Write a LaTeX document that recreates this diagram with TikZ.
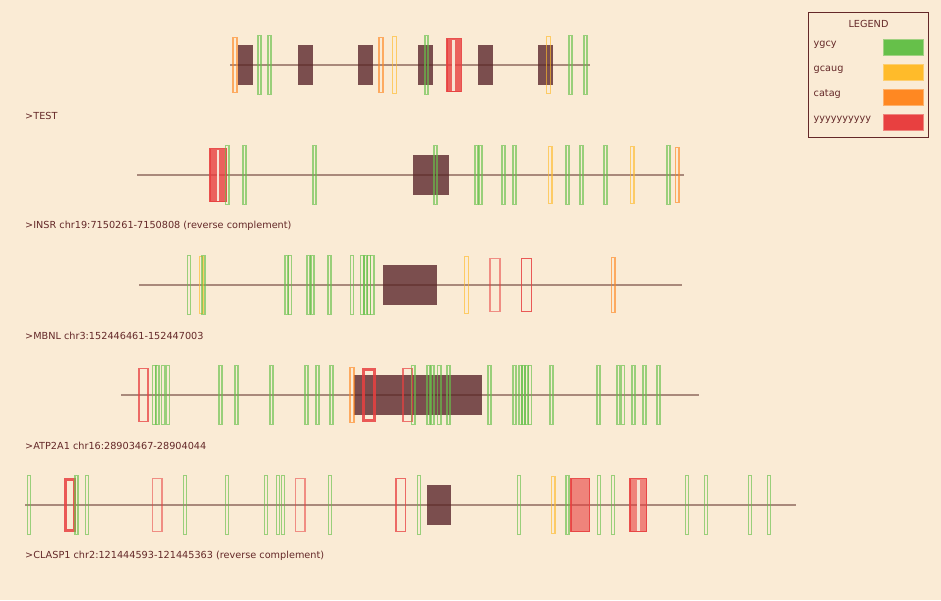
\documentclass[tikz,border=0pt]{standalone}
\usepackage{fontspec}
\setmainfont{DejaVu Sans}
\definecolor{bg}{RGB}{250,235,213}
\definecolor{lncol}{RGB}{90,40,35}
\definecolor{excol}{RGB}{123,78,78}
\definecolor{txt}{RGB}{100,40,40}
\definecolor{cG}{RGB}{102,192,74}
\definecolor{cY}{RGB}{255,187,42}
\definecolor{cO}{RGB}{255,136,34}
\definecolor{cR}{RGB}{232,64,64}
\definecolor{stripe}{RGB}{248,228,212}
\tikzset{
  gbox/.style={draw=cG,draw opacity=0.65,line width=1.4pt},
  ybox/.style={draw=cY,draw opacity=0.65,line width=1.4pt},
  obox/.style={draw=cO,draw opacity=0.65,line width=1.4pt},
  rbox/.style={draw=cR,draw opacity=#1,line width=1.5pt},
  rthick/.style={draw=cR,draw opacity=0.85,line width=3pt},
  rfill/.style={draw=cR,draw opacity=0.9,line width=1.5pt,fill=cR,fill opacity=#1},
  exon/.style={fill=excol},
  mainline/.style={draw=lncol,draw opacity=0.5,line width=2.2pt},
  lbl/.style={anchor=west,text=txt,font=\fontsize{9.7}{11}\selectfont,inner sep=0pt},
}
\newcommand\mG[1]{\draw[gbox] (#1+0.7,\yc-29.3) rectangle (#1+3.8,\yc+29.3);}
\newcommand\mY[1]{\draw[ybox] (#1+0.7,\yc-28.3) rectangle (#1+4.6,\yc+28.3);}
\newcommand\mO[1]{\draw[obox] (#1+0.7,\yc-27.3) rectangle (#1+4.6,\yc+27.3);}
\newcommand\mR[3][0.55]{\draw[rbox=#1] (#2+0.75,\yc-26.5) rectangle (#3-0.75,\yc+26.5);}
\newcommand\mRT[2]{\draw[rthick] (#1+1.5,\yc-25.75) rectangle (#2-1.5,\yc+25.75);}
\newcommand\mRF[3]{\draw[rfill=#3] (#1+0.75,\yc-26.5) rectangle (#2-0.75,\yc+26.5);}
\newcommand\mST[2]{\fill[stripe] (#1,\yc-25.5) rectangle (#2,\yc+25.5);}
\newcommand\ex[2]{\fill[exon] (#1,\yc-20) rectangle (#2,\yc+20);}
\newcommand\bline[2]{\draw[mainline] (#1,\yc) -- (#2,\yc);}
\begin{document}
\begin{tikzpicture}[x=1pt,y=-1pt]
\fill[bg] (0,0) rectangle (941,600);
\useasboundingbox (0,0) rectangle (941,600);
% Row 1
\def\yc{65}
\ex{238}{253}\ex{298}{313}\ex{358}{373}\ex{418}{433}\ex{478}{493}\ex{538}{553}
\bline{230}{590}
\mO{232.3}\mG{257.3}\mG{267.3}\mO{378.3}\mY{391.7}\mG{424.3}
\mRF{446}{462}{0.8}\mST{452.3}{455}
\mY{545.7}\mG{568.3}\mG{583.3}
\node[lbl] (l1) at (25,116) {>TEST};
% Row 2
\def\yc{175}
\ex{413}{449}
\bline{137}{684}
\mRF{209}{227}{0.8}\mST{217.3}{219.3}
\mG{225}\mG{242.3}\mG{312.3}\mG{433.3}\mG{474.3}\mG{478.3}\mG{501.3}\mG{512.3}
\mY{547.5}\mG{565.3}\mG{579.3}\mG{603.3}\mY{629.5}\mG{666.3}\mO{674.5}
\node[lbl] (l2) at (25,226) {>INSR chr19:7150261-7150808 (reverse complement)};
% Row 3
\def\yc{285}
\ex{383}{437}
\bline{139}{682}
\mG{186.7}\mY{198.5}\mG{201.3}\mG{284.3}\mG{287.7}\mG{306.3}\mG{310.3}\mG{327.3}
\mG{349.7}\mG{360}\mG{363.3}\mG{366.5}\mG{370}
\mY{463.8}\mR{489.3}{500.7}\mR[0.85]{520.7}{532.3}\mO{610.5}
\node[lbl] (l3) at (25,336) {>MBNL chr3:152446461-152447003};
% Row 4
\def\yc{395}
\ex{354.3}{482.3}
\bline{121}{699}
\mR[0.75]{138}{148.7}\mG{152}\mG{155}\mG{161}\mG{165.7}
\mG{218.3}\mG{234.3}\mG{269.3}\mG{304.3}\mG{315.3}\mG{329.3}
\mO{349.3}\mRT{362.3}{375.7}\mR[0.7]{402.3}{412.7}\mG{411}
\mG{426.3}\mG{430.3}\mG{437}\mG{446.3}\mG{487.3}
\mG{512.3}\mG{518.3}\mG{521.3}\mG{524.3}\mG{527.5}
\mG{549.3}\mG{596.3}\mG{616.3}\mG{620.7}\mG{631.3}\mG{642.3}\mG{656.3}
\node[lbl] (l4) at (25,446) {>ATP2A1 chr16:28903467-28904044};
% Row 5
\def\yc{505}
\ex{427}{451}
\bline{25}{796}
\mG{26.7}\mRT{63.7}{75.7}\mG{74.3}\mG{84.7}\mR{151.7}{162.7}\mG{182.7}
\mG{224.7}\mG{263.7}\mG{275.7}\mG{280.7}\mR{294.7}{305.7}\mG{327.7}
\mR[0.75]{395}{406}\mG{416.5}\mG{516.7}\mY{550.5}\mG{565.3}
\mRF{570.3}{590.3}{0.6}\mG{596.7}\mG{610.7}
\mRF{629.3}{647.3}{0.6}\mST{637.3}{639.7}
\mG{684.7}\mG{703.7}\mG{747.7}\mG{766.7}
\node[lbl] (l5) at (25,556) {>CLASP1 chr2:121444593-121445363 (reverse complement)};
% Legend
\draw[draw=txt,line width=1.2pt] (808.3,12.3) rectangle (928.3,137.3);
\node[lbl,anchor=center] (lg) at (868.5,23.5) {LEGEND};
\node[lbl] (lt1) at (813.5,45) {ygcy};
\node[lbl] (lt2) at (813.5,69.5) {gcaug};
\node[lbl] (lt3) at (813.5,94.5) {catag};
\node[lbl] (lt4) at (813.5,120) {yyyyyyyyyy};
\draw[fill=cG,draw=cG!60!bg,line width=1pt] (883.5,39.5) rectangle (923.3,55);
\draw[fill=cY,draw=cY!60!bg,line width=1pt] (883.5,64.5) rectangle (923.3,80);
\draw[fill=cO,draw=cO!60!bg,line width=1pt] (883.5,89.5) rectangle (923.3,105);
\draw[fill=cR,draw=cR!60!bg,line width=1pt] (883.5,114.5) rectangle (923.3,130);
\end{tikzpicture}
\end{document}
